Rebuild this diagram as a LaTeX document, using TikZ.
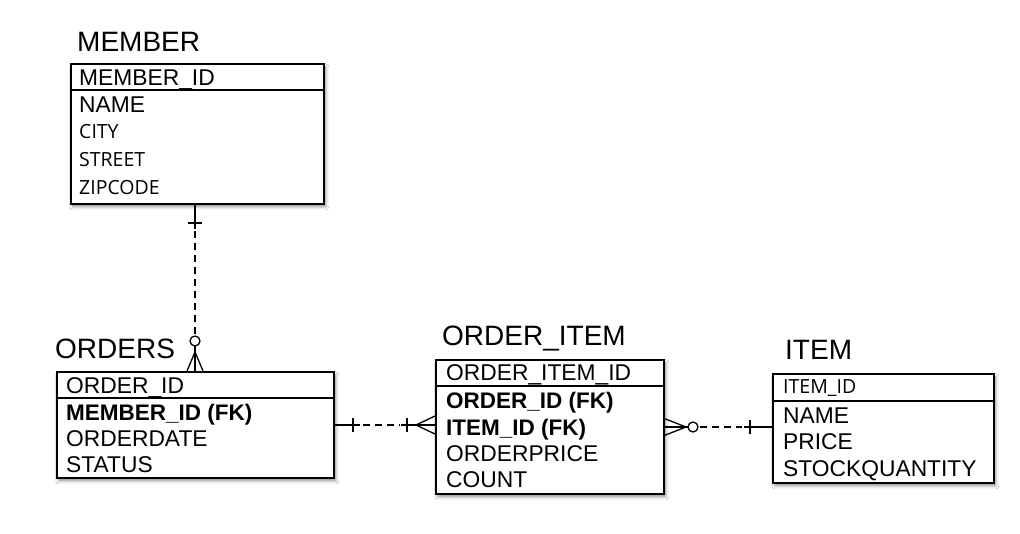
\documentclass[tikz,border=0pt]{standalone}
\usepackage{fontspec}
\setmainfont{Liberation Sans}
\newfontfamily\osans{Open Sans}
\usetikzlibrary{shadows.blur}
\begin{document}
\begin{tikzpicture}[x=1pt,y=-1pt,
  entbox/.style={draw=black, line width=1.6pt, fill=white, rectangle, inner sep=0pt, anchor=north west,
    blur shadow={shadow xshift=2pt, shadow yshift=-3pt, shadow blur steps=6, shadow opacity=45, shadow blur radius=3pt}},
  sepline/.style={line width=1.6pt},
  title/.style={anchor=base west, inner sep=0pt, font=\fontsize{28}{30}\selectfont},
  row/.style={anchor=base west, inner sep=0pt, font=\fontsize{22.8}{26}\selectfont},
  rowo/.style={anchor=base west, inner sep=0pt, font=\osans\fontsize{19.5}{24}\selectfont},
  rowb/.style={anchor=base west, inner sep=0pt, font=\bfseries\fontsize{22.5}{26}\selectfont},
  conn/.style={line width=1.3pt},
  dconn/.style={line width=1.3pt, dash pattern=on 7pt off 5pt}]
\useasboundingbox (0,0) rectangle (1020,533);
\fill[white] (0,0) rectangle (1020,533);

% MEMBER
\node[title] (tmember) at (77,51) {MEMBER};
\node[entbox, minimum width=253pt, minimum height=140pt] (member) at (70,63) {};
\draw[sepline] (member.west |- 0,90) -- (member.east |- 0,90);
\node[row] (m1) at (79,85) {MEMBER\_ID};
\node[row] (m2) at (79,112) {NAME};
\node[rowo] (m3) at (79,138) {CITY};
\node[rowo] (m4) at (79,166) {STREET};
\node[rowo] (m5) at (79,194) {ZIPCODE};

% ORDERS
\node[title] (torders) at (55,358) {ORDERS};
\node[entbox, minimum width=277pt, minimum height=106pt] (orders) at (56,371) {};
\draw[sepline] (orders.west |- 0,398) -- (orders.east |- 0,398);
\node[row] (o1) at (66,393) {ORDER\_ID};
\node[rowb] (o2) at (66,420) {MEMBER\_ID (FK)};
\node[row] (o3) at (66,446) {ORDERDATE};
\node[row] (o4) at (66,472) {STATUS};

% ORDER_ITEM
\node[title] (toi) at (442,345) {ORDER\_ITEM};
\node[entbox, minimum width=228pt, minimum height=134pt] (oi) at (435,359) {};
\draw[sepline] (oi.west |- 0,386) -- (oi.east |- 0,386);
\node[row] (i1) at (446,380) {ORDER\_ITEM\_ID};
\node[rowb] (i2) at (446,408) {ORDER\_ID (FK)};
\node[rowb] (i3) at (446,435) {ITEM\_ID (FK)};
\node[row] (i4) at (446,461) {ORDERPRICE};
\node[row] (i5) at (446,487) {COUNT};

% ITEM
\node[title] (titem) at (785,359) {ITEM};
\node[entbox, minimum width=221pt, minimum height=109pt] (item) at (772,373) {};
\draw[sepline] (item.west |- 0,401) -- (item.east |- 0,401);
\node[rowo] (t1) at (783,393) {ITEM\_ID};
\node[row] (t2) at (783,423) {NAME};
\node[row] (t3) at (783,449) {PRICE};
\node[row] (t4) at (783,476) {STOCKQUANTITY};

% MEMBER -- ORDERS (one to zero-or-many)
\coordinate (ma) at (195,203);
\coordinate (mb) at (195,371);
\draw[conn] (ma) -- (195,229);
\draw[conn] (188,223) -- (202,223);
\draw[dconn] (195,231) -- (195,336);
\draw[conn] (195,341) circle (5);
\draw[conn] (195,346) -- (mb);
\draw[conn] (187,371) -- (195,352) -- (203,371);

% ORDERS -- ORDER_ITEM (one to one-or-many)
\coordinate (oa) at (333,425);
\coordinate (ob) at (435,425);
\draw[conn] (oa) -- (360,425);
\draw[conn] (353,418) -- (353,432);
\draw[dconn] (363,425) -- (400,425);
\draw[conn] (401,425) -- (ob);
\draw[conn] (407,418) -- (407,432);
\draw[conn] (435,416) -- (416,425) -- (435,434);

% ORDER_ITEM -- ITEM (zero-or-many to one)
\coordinate (ia) at (663,427);
\coordinate (ib) at (772,427);
\draw[conn] (ia) -- (688,427);
\draw[conn] (663,418) -- (686,427) -- (663,436);
\draw[conn] (693,427) circle (5);
\draw[dconn] (700,427) -- (742,427);
\draw[conn] (744,427) -- (ib);
\draw[conn] (750,420) -- (750,434);
\end{tikzpicture}
\end{document}
